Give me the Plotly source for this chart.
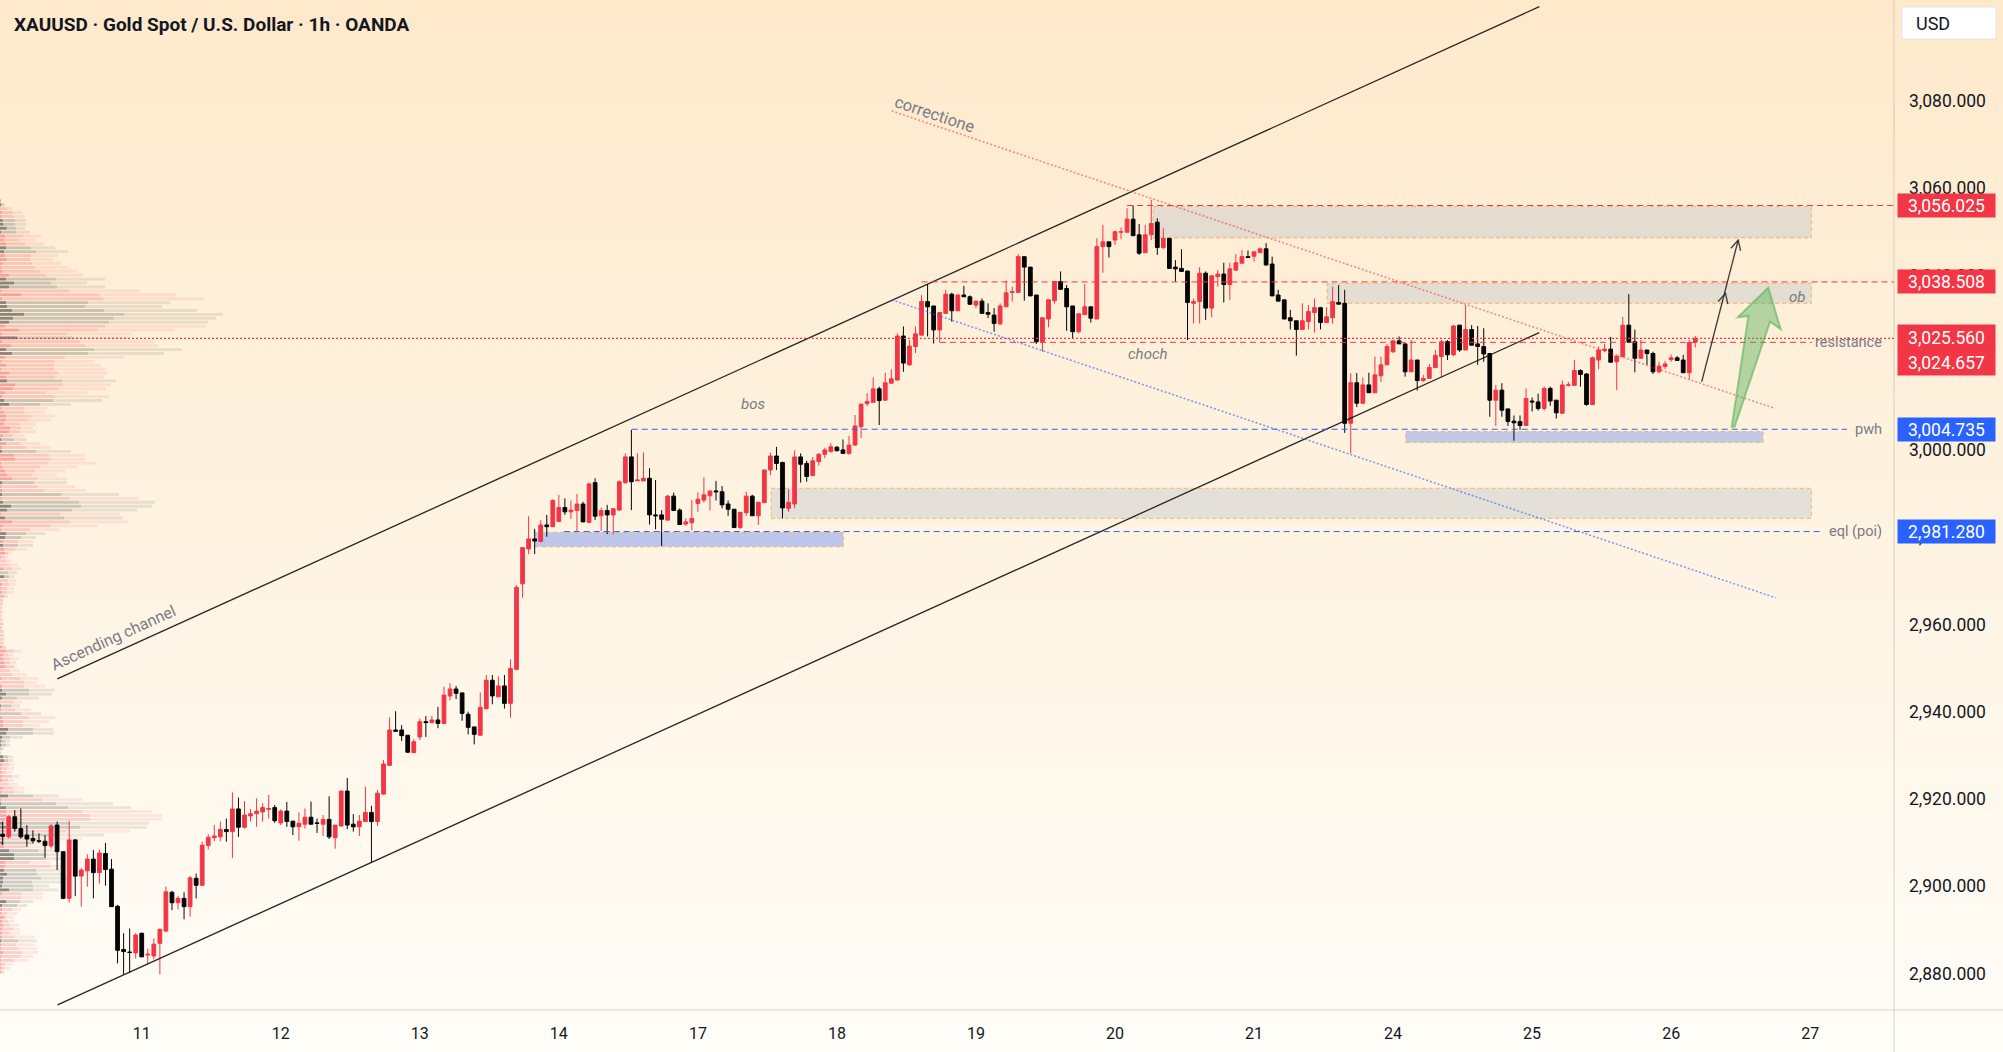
import math
import plotly.graph_objects as go

# ---------------- data ----------------
day_labels = ["11", "12", "13", "14", "17", "18", "19", "20", "21", "24", "25", "26", "27"]
bars_per_day = 23
price_ticks = [2880, 2900, 2920, 2940, 2960, 2980, 3000, 3020, 3040, 3060, 3080]

candle_open = [
    2911.9, 2911.3, 2915.9, 2913.2, 2911.7, 2910.9, 2910.4, 2910.3, 2909.2, 2914.0,
    2907.9, 2897.2, 2910.6, 2902.3, 2903.5, 2906.2, 2903.1, 2907.5, 2903.9, 2895.4,
    2885.5, 2884.9, 2884.7, 2889.2, 2884.2, 2884.0, 2886.9, 2889.7, 2898.6, 2896.2,
    2897.2, 2895.3, 2901.8, 2900.2, 2909.3, 2911.1, 2911.3, 2913.0, 2912.5, 2917.7,
    2913.5, 2916.1, 2916.6, 2917.0, 2917.6, 2918.0, 2914.5, 2917.2, 2914.9, 2913.6,
    2914.2, 2915.8, 2914.5, 2914.2, 2915.3, 2911.1, 2913.8, 2921.8, 2914.2, 2913.6,
    2914.8, 2916.9, 2914.8, 2921.1, 2927.7, 2935.8, 2935.8, 2934.6, 2930.6, 2934.2,
    2937.7, 2937.5, 2938.1, 2937.3, 2943.6, 2945.2, 2944.3, 2939.4, 2936.5, 2934.6,
    2940.7, 2947.2, 2943.4, 2945.9, 2941.9, 2949.7, 2969.3, 2977.3, 2979.6, 2979.0,
    2982.8, 2982.4, 2983.6, 2986.8, 2985.8, 2986.1, 2987.6, 2983.4, 2992.5, 2984.9,
    2986.1, 2985.1, 2986.2, 2992.5, 2998.4, 2992.9, 2992.9, 2993.5, 2985.1, 2985.1,
    2983.9, 2989.4, 2986.2, 2983.0, 2983.3, 2987.7, 2988.5, 2989.5, 2990.6, 2990.4,
    2987.6, 2986.4, 2982.2, 2985.6, 2989.4, 2984.9, 2987.9, 2995.4, 2998.6, 2997.1,
    2986.6, 2987.6, 2998.4, 2996.9, 2994.1, 2997.3, 2999.0, 2999.6, 3000.6, 3000.0,
    2999.2, 3001.1, 3005.3, 3010.6, 3010.9, 3014.0, 3011.4, 3015.3, 3016.0, 3026.1,
    3019.5, 3023.7, 3026.3, 3034.0, 3033.0, 3027.5, 3031.3, 3035.7, 3031.9, 3035.5,
    3035.1, 3033.2, 3034.1, 3031.5, 3030.9, 3028.9, 3032.8, 3036.1, 3036.1, 3044.3,
    3041.9, 3035.5, 3024.8, 3030.0, 3034.2, 3038.6, 3037.0, 3033.0, 3027.1, 3031.0,
    3032.8, 3030.0, 3046.6, 3047.7, 3048.1, 3049.9, 3049.9, 3052.9, 3049.3, 3045.2,
    3049.3, 3052.2, 3046.4, 3048.5, 3041.9, 3041.6, 3041.0, 3033.6, 3034.0, 3040.5,
    3032.5, 3039.7, 3040.3, 3037.9, 3041.2, 3042.8, 3044.3, 3044.4, 3045.2, 3046.1,
    3042.6, 3035.5, 3034.4, 3030.3, 3029.6, 3027.6, 3029.4, 3031.5, 3032.6, 3029.2,
    3030.3, 3033.8, 3033.6, 3006.1, 3015.4, 3010.7, 3014.9, 3013.1, 3017.0, 3019.5,
    3022.5, 3025.0, 3024.3, 3017.9, 3020.6, 3015.9, 3016.4, 3018.9, 3021.4, 3024.8,
    3021.8, 3028.6, 3022.9, 3027.6, 3024.3, 3023.7, 3022.1, 3011.4, 3013.7, 3009.4,
    3006.6, 3006.5, 3005.6, 3011.2, 3011.0, 3009.5, 3014.1, 3011.4, 3008.4, 3014.8,
    3014.8, 3018.2, 3017.4, 3010.4, 3020.6, 3022.8, 3023.1, 3020.2, 3021.4, 3028.6,
    3024.8, 3021.0, 3022.9, 3022.1, 3017.9, 3019.1, 3020.7, 3021.1, 3020.6, 3017.7,
    3024.7,
]
candle_high = [
    2914.8, 2916.3, 2917.4, 2917.8, 2914.0, 2912.8, 2912.1, 2911.7, 2914.2, 2914.8,
    2908.0, 2914.9, 2910.8, 2904.1, 2907.3, 2908.3, 2908.4, 2909.9, 2906.2, 2895.7,
    2889.2, 2890.3, 2889.2, 2889.3, 2885.7, 2888.0, 2890.3, 2899.9, 2898.9, 2897.8,
    2898.6, 2902.3, 2902.9, 2910.2, 2911.9, 2914.0, 2914.8, 2915.5, 2921.5, 2920.3,
    2919.5, 2917.7, 2920.1, 2919.0, 2920.9, 2918.6, 2917.6, 2919.3, 2914.9, 2916.9,
    2917.8, 2919.4, 2915.5, 2916.3, 2920.6, 2914.0, 2921.8, 2924.8, 2916.5, 2916.3,
    2922.8, 2918.4, 2922.0, 2928.9, 2938.7, 2940.1, 2936.9, 2934.6, 2933.7, 2938.4,
    2939.0, 2939.0, 2941.1, 2945.7, 2946.5, 2945.9, 2944.3, 2940.0, 2936.5, 2944.4,
    2948.4, 2948.4, 2948.1, 2948.4, 2952.0, 2969.0, 2977.6, 2984.8, 2981.9, 2983.9,
    2985.1, 2988.7, 2989.7, 2988.9, 2988.4, 2989.9, 2988.1, 2992.5, 2993.5, 2986.8,
    2987.4, 2986.7, 2993.0, 2999.2, 3004.6, 2999.2, 2999.4, 2995.8, 2993.1, 2986.2,
    2989.7, 2990.2, 2986.6, 2984.3, 2988.5, 2990.3, 2993.7, 2990.6, 2992.9, 2991.7,
    2988.4, 2986.4, 2985.7, 2990.4, 2989.7, 2988.0, 2995.4, 2999.4, 3000.7, 2997.3,
    2991.0, 2999.9, 2999.2, 2997.5, 2998.4, 2999.2, 3000.5, 3001.5, 3000.9, 3002.4,
    3003.2, 3008.0, 3010.5, 3013.0, 3016.6, 3014.5, 3017.7, 3018.5, 3026.7, 3028.3,
    3025.2, 3028.3, 3035.5, 3038.0, 3033.0, 3031.5, 3036.7, 3036.0, 3035.7, 3037.6,
    3035.4, 3034.1, 3034.7, 3033.6, 3032.5, 3033.6, 3038.8, 3037.4, 3044.9, 3044.3,
    3041.9, 3035.5, 3030.3, 3034.4, 3038.6, 3040.9, 3037.8, 3033.0, 3031.2, 3038.0,
    3032.8, 3048.5, 3051.6, 3047.7, 3050.3, 3051.0, 3055.4, 3056.0, 3051.8, 3051.6,
    3057.3, 3053.1, 3050.8, 3048.5, 3043.5, 3046.0, 3041.0, 3034.7, 3041.9, 3040.9,
    3039.9, 3041.2, 3042.9, 3042.9, 3044.9, 3045.8, 3045.7, 3045.4, 3046.4, 3047.4,
    3044.3, 3036.7, 3034.4, 3032.1, 3029.6, 3033.6, 3033.2, 3034.7, 3032.8, 3032.7,
    3037.4, 3037.8, 3036.7, 3017.6, 3017.6, 3016.6, 3017.7, 3021.4, 3021.4, 3024.3,
    3025.2, 3026.0, 3024.3, 3025.2, 3020.6, 3017.2, 3019.7, 3022.9, 3025.2, 3025.2,
    3028.6, 3028.6, 3033.2, 3028.6, 3028.4, 3027.9, 3022.1, 3014.9, 3015.3, 3009.4,
    3007.9, 3007.9, 3014.1, 3012.0, 3012.9, 3014.5, 3014.5, 3011.4, 3015.9, 3015.6,
    3020.6, 3018.5, 3017.6, 3021.4, 3023.7, 3024.3, 3025.9, 3021.5, 3030.5, 3035.7,
    3027.6, 3025.2, 3022.9, 3022.5, 3020.2, 3020.4, 3021.9, 3021.5, 3021.8, 3025.2,
    3026.1,
]
candle_low = [
    2909.4, 2910.9, 2912.5, 2910.9, 2909.0, 2909.8, 2909.9, 2906.5, 2908.6, 2903.7,
    2897.0, 2896.2, 2897.7, 2895.3, 2899.9, 2897.2, 2900.6, 2900.1, 2895.2, 2882.3,
    2879.8, 2880.1, 2883.4, 2883.7, 2882.1, 2883.2, 2879.8, 2889.5, 2894.5, 2894.7,
    2892.4, 2893.0, 2897.2, 2900.0, 2908.4, 2910.3, 2910.3, 2910.2, 2906.4, 2911.3,
    2913.2, 2914.8, 2913.6, 2914.8, 2915.5, 2914.5, 2914.0, 2913.6, 2911.7, 2910.4,
    2913.2, 2914.1, 2912.2, 2911.5, 2910.8, 2908.6, 2913.6, 2913.1, 2912.5, 2911.5,
    2914.8, 2905.4, 2913.8, 2920.9, 2927.5, 2935.4, 2933.3, 2930.6, 2930.5, 2933.5,
    2934.2, 2937.3, 2936.2, 2937.1, 2942.6, 2942.9, 2937.9, 2934.8, 2932.5, 2934.5,
    2940.5, 2941.7, 2943.4, 2940.7, 2938.6, 2949.5, 2966.1, 2976.1, 2976.1, 2978.8,
    2980.1, 2982.4, 2983.5, 2985.1, 2984.2, 2981.3, 2983.4, 2983.2, 2983.9, 2981.4,
    2980.7, 2980.6, 2986.1, 2992.2, 2986.2, 2992.9, 2992.9, 2982.9, 2981.8, 2978.0,
    2983.9, 2986.0, 2982.8, 2982.6, 2981.5, 2985.8, 2987.9, 2986.1, 2988.4, 2986.6,
    2984.9, 2982.2, 2981.9, 2984.9, 2984.9, 2982.8, 2987.9, 2994.2, 2995.4, 2984.3,
    2985.8, 2986.6, 2992.5, 2992.7, 2994.1, 2996.4, 2998.1, 2999.4, 2999.7, 2999.1,
    2998.9, 3001.0, 3002.7, 3010.0, 3010.9, 3005.7, 3011.3, 3015.1, 3016.0, 3017.9,
    3019.3, 3022.2, 3026.3, 3026.0, 3024.4, 3024.7, 3031.2, 3029.4, 3031.9, 3035.1,
    3033.2, 3032.5, 3031.2, 3030.2, 3027.1, 3028.6, 3032.8, 3034.0, 3036.1, 3034.2,
    3035.3, 3024.3, 3022.5, 3028.1, 3033.5, 3036.8, 3027.3, 3025.6, 3026.7, 3030.9,
    3029.2, 3030.0, 3040.6, 3044.1, 3047.0, 3048.3, 3049.9, 3049.1, 3044.7, 3045.2,
    3048.1, 3044.7, 3046.0, 3041.6, 3038.6, 3040.9, 3025.2, 3029.0, 3029.0, 3029.8,
    3030.4, 3037.4, 3033.8, 3034.4, 3041.2, 3042.8, 3044.1, 3043.2, 3045.2, 3042.2,
    3035.3, 3034.1, 3030.0, 3027.6, 3021.6, 3027.6, 3027.6, 3026.9, 3027.6, 3029.2,
    3028.9, 3033.4, 3003.9, 2999.2, 3009.8, 3010.5, 3013.1, 3013.1, 3015.6, 3019.5,
    3022.2, 3024.3, 3016.8, 3017.9, 3013.6, 3015.6, 3016.4, 3018.7, 3016.8, 3020.6,
    3021.5, 3022.5, 3022.9, 3024.0, 3019.5, 3020.2, 3007.6, 3005.5, 3007.6, 3005.5,
    3002.1, 3004.6, 3005.6, 3008.8, 3009.0, 3009.0, 3010.1, 3007.2, 3008.4, 3014.5,
    3014.8, 3014.5, 3010.1, 3010.4, 3018.5, 3022.4, 3020.1, 3013.7, 3021.2, 3024.7,
    3017.8, 3021.0, 3019.5, 3017.4, 3017.6, 3018.5, 3020.2, 3020.5, 3017.6, 3016.2,
    3023.5,
]
candle_close = [
    2911.4, 2915.9, 2913.2, 2911.3, 2910.8, 2910.4, 2910.3, 2909.3, 2913.8, 2907.9,
    2897.2, 2910.6, 2902.3, 2903.7, 2906.2, 2903.1, 2907.6, 2903.8, 2895.3, 2885.3,
    2885.0, 2884.8, 2888.8, 2883.8, 2884.4, 2886.7, 2890.1, 2898.7, 2896.2, 2897.2,
    2895.3, 2901.9, 2900.2, 2909.4, 2911.2, 2911.5, 2913.0, 2912.5, 2917.7, 2913.5,
    2916.3, 2916.6, 2917.2, 2918.0, 2917.8, 2915.0, 2917.2, 2914.8, 2913.6, 2914.4,
    2915.8, 2914.2, 2914.4, 2915.3, 2911.3, 2914.0, 2921.8, 2914.0, 2913.6, 2914.9,
    2916.9, 2914.8, 2921.3, 2928.0, 2935.8, 2935.5, 2934.5, 2930.7, 2933.1, 2937.7,
    2937.5, 2938.1, 2937.3, 2943.8, 2945.2, 2944.2, 2939.6, 2936.4, 2934.8, 2941.0,
    2947.2, 2943.6, 2945.9, 2941.9, 2949.9, 2968.5, 2977.6, 2979.6, 2979.1, 2982.8,
    2982.4, 2988.4, 2986.8, 2985.8, 2986.2, 2987.6, 2983.5, 2992.2, 2984.8, 2986.1,
    2985.1, 2986.5, 2992.7, 2998.4, 2992.7, 2993.1, 2993.5, 2985.1, 2984.9, 2984.1,
    2989.4, 2986.1, 2982.9, 2983.5, 2984.3, 2988.7, 2989.7, 2990.6, 2990.4, 2987.4,
    2986.4, 2982.2, 2985.7, 2989.4, 2984.9, 2988.0, 2995.4, 2998.6, 2996.9, 2986.7,
    2988.0, 2998.4, 2996.7, 2993.9, 2997.5, 2999.0, 3000.0, 3000.7, 2999.8, 2999.2,
    3001.1, 3005.5, 3010.5, 3011.1, 3014.0, 3011.3, 3015.4, 3016.3, 3026.1, 3019.9,
    3023.8, 3026.6, 3034.0, 3032.8, 3027.5, 3031.5, 3035.7, 3031.9, 3035.5, 3035.1,
    3033.4, 3034.1, 3031.3, 3031.1, 3029.0, 3033.0, 3036.0, 3036.3, 3044.3, 3041.9,
    3035.3, 3024.8, 3030.3, 3034.4, 3038.6, 3036.8, 3032.8, 3027.1, 3031.2, 3032.8,
    3030.2, 3046.6, 3047.7, 3046.6, 3050.0, 3050.0, 3052.9, 3049.1, 3045.1, 3049.3,
    3051.9, 3046.4, 3048.5, 3041.6, 3041.5, 3040.9, 3033.8, 3034.0, 3040.5, 3032.5,
    3039.9, 3040.3, 3037.9, 3041.5, 3042.9, 3044.3, 3044.1, 3045.4, 3046.1, 3042.4,
    3035.3, 3034.1, 3030.0, 3029.6, 3027.6, 3029.6, 3031.7, 3032.6, 3029.2, 3030.5,
    3034.0, 3033.4, 3006.1, 3015.4, 3010.7, 3014.9, 3013.1, 3017.2, 3019.5, 3023.7,
    3025.0, 3024.3, 3017.9, 3020.6, 3015.9, 3016.4, 3018.9, 3021.7, 3024.8, 3021.8,
    3028.4, 3022.9, 3027.6, 3024.0, 3023.7, 3022.0, 3011.4, 3013.7, 3009.1, 3006.5,
    3006.2, 3005.6, 3011.8, 3011.0, 3009.5, 3014.1, 3011.2, 3008.5, 3014.9, 3014.9,
    3018.2, 3017.3, 3010.4, 3021.1, 3022.9, 3023.1, 3020.1, 3021.5, 3028.6, 3024.7,
    3021.0, 3022.9, 3022.1, 3017.9, 3019.2, 3019.7, 3021.1, 3020.5, 3017.7, 3024.6,
    3025.56,
]

# visible-range volume profile (rows from top price to bottom price), cumulative segment ends
vp_top_price = 3057.1
vp_bottom_price = 2880.3
vp_dark = [
    1, 3, 0, 5, 3, 8, 10, 20, 3, 15, 12, 18, 18, 12, 15, 20, 8, 5, 8, 27,
    18, 42, 27, 3, 63, 6, 18, 21, 36, 72, 39, 27, 15, 57, 6, 51, 6, 33, 18, 36,
    15, 3, 18, 3, 27, 18, 21, 45, 39, 15, 6, 12, 27, 3, 12, 18, 18, 12, 30, 27,
    9, 3, 18, 6, 6, 42, 45, 3, 6, 15, 21, 36, 6, 3, 6, 6, 3, 9, 33, 21,
    3, 15, 36, 9, 3, 18, 15, 9, 9, 12, 15, 3, 0, 0, 9, 0, 12, 0, 6, 3,
    6, 0, 0, 0, 0, 0, 0, 0, 0, 0, 0, 0, 0, 0, 6, 18, 9, 9, 12, 15,
    0, 0, 3, 0, 6, 6, 18, 6, 0, 3, 3, 0, 6, 9, 9, 24, 18, 6, 3, 3,
    0, 0, 9, 12, 6, 3, 6, 6, 6, 0, 9, 3, 24, 3, 3, 18, 18, 18, 15, 9,
    18, 15, 12, 12, 9, 12, 27, 42, 42, 15, 15, 12, 21, 9, 9, 6, 27, 6, 0, 18,
    6, 6, 3, 12, 6, 9, 6, 6, 6, 3, 3, 3, 9, 3, 3, 3, 3, 3,
]
vp_mid = [
    2, 8, 20, 36, 40, 45, 45, 48, 48, 70, 58, 75, 93, 108, 93, 90, 96, 105, 120, 138,
    168, 153, 171, 210, 297, 309, 264, 255, 312, 372, 342, 327, 315, 291, 201, 216, 240, 255, 282, 264,
    195, 162, 162, 162, 174, 165, 186, 189, 177, 138, 165, 159, 120, 72, 72, 93, 84, 60, 63, 60,
    39, 42, 60, 78, 108, 147, 153, 144, 120, 105, 96, 111, 102, 111, 132, 183, 210, 237, 243, 216,
    180, 192, 210, 153, 90, 78, 63, 54, 54, 45, 24, 15, 18, 27, 36, 24, 27, 24, 27, 21,
    21, 12, 9, 9, 6, 6, 3, 6, 9, 6, 9, 12, 9, 9, 15, 42, 24, 30, 30, 42,
    30, 36, 60, 72, 72, 87, 87, 51, 39, 33, 45, 63, 87, 69, 69, 99, 99, 30, 15, 18,
    6, 3, 24, 24, 27, 21, 18, 36, 24, 27, 39, 42, 99, 126, 168, 204, 246, 270, 270, 210,
    240, 198, 165, 120, 99, 78, 114, 135, 138, 87, 150, 108, 111, 123, 96, 99, 99, 63, 63, 60,
    51, 36, 21, 18, 24, 30, 39, 30, 45, 54, 48, 57, 66, 60, 42, 15, 12, 9,
]
vp_total = [
    3, 15, 38, 65, 75, 78, 78, 75, 90, 123, 105, 132, 165, 204, 174, 159, 183, 204, 231, 249,
    315, 261, 315, 420, 528, 612, 510, 486, 591, 669, 648, 624, 615, 525, 396, 384, 462, 474, 546, 492,
    372, 279, 303, 318, 321, 312, 348, 333, 318, 261, 327, 306, 213, 141, 135, 165, 153, 108, 99, 108,
    72, 81, 120, 153, 213, 255, 258, 288, 234, 195, 171, 201, 201, 225, 258, 357, 417, 465, 456, 411,
    360, 369, 384, 294, 180, 135, 108, 99, 99, 81, 36, 24, 36, 54, 63, 51, 42, 48, 48, 42,
    39, 24, 9, 9, 6, 9, 6, 9, 12, 9, 12, 12, 15, 12, 20, 66, 39, 54, 48, 51,
    60, 81, 114, 111, 135, 165, 156, 117, 66, 60, 93, 123, 165, 147, 120, 159, 162, 69, 30, 30,
    12, 3, 39, 39, 42, 42, 36, 57, 42, 54, 72, 72, 177, 246, 339, 393, 456, 486, 486, 447,
    441, 393, 312, 246, 171, 141, 171, 177, 186, 153, 190, 180, 195, 204, 183, 147, 174, 129, 129, 99,
    81, 63, 54, 42, 42, 57, 60, 60, 105, 111, 105, 111, 114, 102, 84, 39, 30, 15,
]
vp_kind = list(
    "ggrrrggggr" "rrggrrrrrr" "gggrrrgggg" "ggrrrgrrgg" "rrrrrrgrrr"
    "rggrrrrrrr" "rgrrgrrrrr" "rrgrrgrggg" "rgrrrggrgr" "rrrrrggrrr"
    "rgrr" "rrrrrr"
    "rrrrrrrrrr" "rrrrrgggrg" "rgrrrggggg" "grggrrrrrr" "rrgrggrrrg"
    "grgrgrgggr" "rggggggrrg" "grrrrrrrrg" "rrrrrrrr"
)

# drawings (anchors in bar-index / price units)
channel_upper = [(9.03, 2947.5), (254.2, 3101.6)]
channel_lower = [(9.07, 2872.8), (254.2, 3026.9)]
correction_line = [(147.05, 3077.7), (293.2, 3009.5)]
blue_trend_line = [(147.07, 3034.4), (293.3, 2966.1)]
level_top = 3056.025
level_ob = 3038.508
level_last = 3025.560
level_res = 3024.657
level_pwh = 3004.735
level_eql = 2981.280
zone_top = (190.3, 299.2, 3048.6, 3055.8)
zone_ob = (219.1, 299.2, 3033.6, 3038.2)
zone_mid = (127.1, 299.2, 2984.3, 2991.2)
zone_blue_left = (88.06, 139.06, 2977.8, 2981.1)
zone_blue_right = (232.1, 291.2, 3001.7, 3004.2)
arrow_start = (281.06, 3015.63)
arrow_end_long = (287.1, 3048.11)
arrow_end_short = (285.0, 3035.9)
green_arrow_idx = [286.02, 288.78, 287.0, 292.08, 294.12, 292.36, 286.51]
green_arrow_px = [3005.33, 3030.69, 3030.39, 3037.19, 3027.64, 3029.39, 3005.33]

# ---------------- layout geometry ----------------
W, H = 2003, 1052
ML, MR, MT, MB = 0, 109, 0, 42
PW, PH = W - ML - MR, H - MT - MB
X2_RANGE = [-0.4467, 312.87]
Y_RANGE = [2871.61, 3103.13]
VP_RANGE = [0, 3 * PW]
sx = PW / (X2_RANGE[1] - X2_RANGE[0])
sy = PH / (Y_RANGE[1] - Y_RANGE[0])
FONT = "Roboto"
RED = "#F23645"
BLUE = "#2962FF"
TXT = "#131722"
GREY_TXT = "#787B86"

n = len(candle_open)
idx = list(range(n))

fig = go.Figure()

# ---- volume profile ----
nrows = len(vp_total)
step = (vp_top_price - vp_bottom_price) / (nrows - 1)
vp_prices = [vp_top_price - k * step for k in range(nrows)]
pal = {
    "r": ["rgba(242,54,69,0.42)", "rgba(242,54,69,0.22)", "rgba(242,54,69,0.10)"],
    "g": ["rgba(95,92,88,0.72)", "rgba(120,118,112,0.36)", "rgba(130,125,115,0.17)"],
}
segs = [
    (vp_dark, [0] * nrows),
    ([m - d for m, d in zip(vp_mid, vp_dark)], vp_dark),
    ([t - m for t, m in zip(vp_total, vp_mid)], vp_mid),
]
for si, (lens, bases) in enumerate(segs):
    fig.add_trace(go.Bar(
        y=vp_prices, x=lens, base=bases, orientation="h", width=step * 0.74,
        marker=dict(color=[pal[k][si] for k in vp_kind], line=dict(width=0)),
        xaxis="x", yaxis="y", hoverinfo="skip", showlegend=False,
    ))

# ---- candles ----
fig.add_trace(go.Candlestick(
    x=idx, open=candle_open, high=candle_high, low=candle_low, close=candle_close,
    xaxis="x2", yaxis="y",
    increasing=dict(line=dict(color=RED, width=1), fillcolor=RED),
    decreasing=dict(line=dict(color="#050505", width=1), fillcolor="#050505"),
    whiskerwidth=0, hoverinfo="skip", showlegend=False,
))

shapes = []
# background gradient
top_c = (254, 233, 203)
bot_c = (255, 253, 248)
NB = 70
y_lo = -MB / PH
y_hi = 1.0
for k in range(NB):
    t = (k + 0.5) / NB
    col = tuple(round(top_c[j] + (bot_c[j] - top_c[j]) * t) for j in range(3))
    y1 = y_hi - (y_hi - y_lo) * k / NB
    y0 = y_hi - (y_hi - y_lo) * (k + 1) / NB
    shapes.append(dict(type="rect", xref="paper", yref="paper", x0=0, x1=W / PW,
                       y0=y0 - 0.001, y1=y1 + 0.001, fillcolor="rgb(%d,%d,%d)" % col,
                       line=dict(width=0), layer="below"))

ZONE_FILL = "rgba(175,185,198,0.32)"
ZONE_EDGE = "rgba(240,170,70,0.75)"


def rect(z, fill, border):
    shapes.append(dict(type="rect", xref="x2", yref="y", x0=z[0], x1=z[1], y0=z[2], y1=z[3],
                       fillcolor=fill, line=dict(color=border, width=1, dash="4px,3px"),
                       layer="below"))


rect(zone_top, ZONE_FILL, ZONE_EDGE)
rect(zone_ob, ZONE_FILL, ZONE_EDGE)
rect(zone_mid, ZONE_FILL, ZONE_EDGE)
rect(zone_blue_left, "rgba(41,98,255,0.30)", ZONE_EDGE)
rect(zone_blue_right, "rgba(41,98,255,0.28)", ZONE_EDGE)


def seg(p0, p1, color, width=1, dash="solid", xref="x2"):
    shapes.append(dict(type="line", xref=xref, yref="y", x0=p0[0], y0=p0[1], x1=p1[0], y1=p1[1],
                       line=dict(color=color, width=width, dash=dash), layer="above"))


seg(*channel_upper, "rgba(15,15,15,0.9)", 1.3)
seg(*channel_lower, "rgba(15,15,15,0.9)", 1.3)
seg(*correction_line, "rgba(242,54,69,0.55)", 1.6, "2px,2px")
seg(*blue_trend_line, "rgba(41,98,255,0.6)", 1.6, "2px,2px")
seg((186, level_top), (X2_RANGE[1], level_top), RED, 1, "6px,4px")
seg((152.0, level_ob), (X2_RANGE[1], level_ob), RED, 1, "6px,4px")
seg((155.05, level_res), (299.3, level_res), RED, 1, "6px,4px")
seg((104.05, level_pwh), (305.1, level_pwh), BLUE, 1, "6px,4px")
seg((92.8, level_eql), (300.9, level_eql), BLUE, 1, "6px,4px")
shapes.append(dict(type="line", xref="paper", yref="y", x0=0, x1=1, y0=level_last, y1=level_last,
                   line=dict(color=RED, width=1.3, dash="2px,2px"), layer="above"))

# arrows
seg(arrow_start, arrow_end_long, "rgba(40,40,40,0.9)", 1.3)


def head(p0, p1, length=11, half=27):
    dx = (p1[0] - p0[0]) * sx
    dy = (p1[1] - p0[1]) * sy
    L = math.hypot(dx, dy)
    ux, uy = dx / L, dy / L
    pts = []
    for s in (1, -1):
        a = math.radians(half * s)
        rx = ux * math.cos(a) - uy * math.sin(a)
        ry = ux * math.sin(a) + uy * math.cos(a)
        pts.append((p1[0] - rx * length / sx, p1[1] - ry * length / sy))
    path = "M %f,%f L %f,%f L %f,%f" % (pts[0][0], pts[0][1], p1[0], p1[1], pts[1][0], pts[1][1])
    shapes.append(dict(type="path", xref="x2", yref="y", path=path,
                       line=dict(color="rgba(40,40,40,0.9)", width=1.3), layer="above"))


head(arrow_start, arrow_end_long)
head(arrow_start, arrow_end_short)

gpath = "M " + " L ".join("%f,%f" % (a, b) for a, b in zip(green_arrow_idx, green_arrow_px)) + " Z"
shapes.append(dict(type="path", xref="x2", yref="y", path=gpath,
                   fillcolor="rgba(76,175,80,0.42)", line=dict(color="rgba(76,175,80,0.55)", width=2),
                   layer="above"))

# separators
shapes.append(dict(type="line", xref="paper", yref="paper", x0=1, x1=1, y0=y_lo, y1=1,
                   line=dict(color="rgba(170,160,150,0.45)", width=1), layer="above"))
shapes.append(dict(type="line", xref="paper", yref="paper", x0=0, x1=W / PW, y0=0, y1=0,
                   line=dict(color="rgba(170,160,150,0.45)", width=1), layer="above"))
# USD box
shapes.append(dict(type="rect", xref="paper", yref="paper", x0=1902 / PW, x1=1996 / PW,
                   y0=1 - 39 / PH, y1=1 - 7 / PH, fillcolor="white",
                   line=dict(color="#E3E5EA", width=1), layer="above"))

ann = []
ann.append(dict(xref="paper", yref="paper", x=12 / PW, y=1 - 24 / PH, xanchor="left", yanchor="middle",
                text="<b>XAUUSD · Gold Spot / U.S. Dollar · 1h · OANDA</b>", showarrow=False,
                font=dict(family=FONT, size=19, color=TXT)))
ann.append(dict(xref="paper", yref="paper", x=1914 / PW, y=1 - 23 / PH, xanchor="left", yanchor="middle",
                text="USD", showarrow=False, font=dict(family=FONT, size=18, color=TXT)))

LBL_SIZE = 17.5


def price_label(val, color, yshift=0, h=19):
    ann.append(dict(xref="paper", yref="y", x=1897 / PW, y=val, xanchor="left", yanchor="middle",
                    text="{:,.3f}".format(val), showarrow=False, bgcolor=color, borderpad=2,
                    width=93, height=h, align="center", yshift=yshift,
                    font=dict(family=FONT, size=LBL_SIZE, color="white")))


price_label(level_top, RED)
price_label(level_ob, RED)
price_label(level_last, RED, 1, 21)
price_label(level_res, RED, -20, 21)
price_label(level_pwh, BLUE)
price_label(level_eql, BLUE)


def label(x, y, text, size=15, italic=False, angle=0, xanchor="center", color=GREY_TXT):
    ann.append(dict(xref="x2", yref="y", x=x, y=y, text=("<i>%s</i>" % text) if italic else text,
                    showarrow=False, textangle=angle, xanchor=xanchor, yanchor="middle",
                    font=dict(family=FONT, size=size, color=color)))


label(18.41, 2956.9, "Ascending channel", 16, angle=-24.4)
label(154.2, 3076.9, "correctione", 16.5, angle=18.5)
label(124.2, 3010.6, "bos", 15, italic=True)
label(189.5, 3022.0, "choch", 15, italic=True)
label(298.4, 3035.1, "ob", 15, italic=True, xanchor="right")
label(311.2, level_res, "resistance", 14.5, xanchor="right")
label(311.2, level_pwh, "pwh", 14.5, xanchor="right")
label(311.2, level_eql, "eql (poi)", 14.5, xanchor="right")

fig.update_layout(
    width=W, height=H, autosize=False,
    margin=dict(l=ML, r=MR, t=MT, b=MB, pad=0),
    paper_bgcolor="rgb(255,253,248)", plot_bgcolor="rgba(0,0,0,0)",
    barmode="overlay", boxgap=0.38, boxgroupgap=0,
    showlegend=False,
    xaxis=dict(range=VP_RANGE, visible=False, fixedrange=True),
    xaxis2=dict(overlaying="x", anchor="y", side="bottom", range=X2_RANGE,
                tickvals=[bars_per_day * (k + 1) for k in range(len(day_labels))],
                ticktext=day_labels, showgrid=False, zeroline=False, showline=False,
                ticks="", ticklabelstandoff=12, tickfont=dict(family=FONT, size=16, color=TXT),
                rangeslider=dict(visible=False)),
    yaxis=dict(side="right", range=Y_RANGE, tickvals=price_ticks, tickformat=",.3f",
               showgrid=False, zeroline=False, showline=False, ticks="", ticklabelstandoff=14,
               tickfont=dict(family=FONT, size=LBL_SIZE, color=TXT)),
    shapes=shapes, annotations=ann,
)

fig.write_html("out.html")
